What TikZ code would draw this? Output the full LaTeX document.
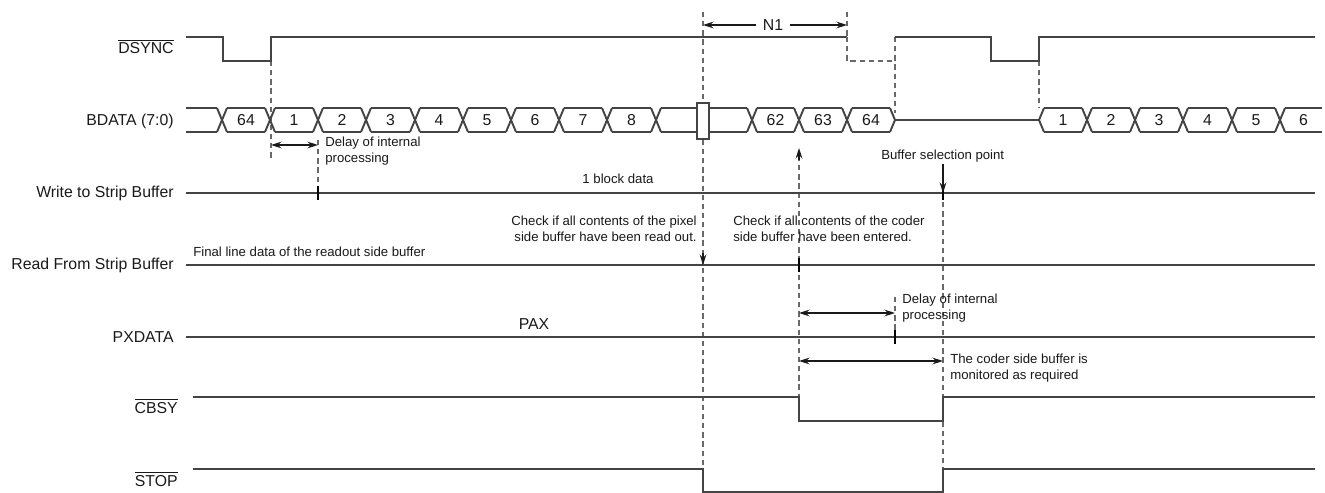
\documentclass[tikz,border=0pt]{standalone}
\usepackage{fontspec}
\setmainfont{Liberation Sans}
\usepackage{xcolor}
\usepackage{tikz}
\usetikzlibrary{arrows.meta}
\definecolor{wavegray}{RGB}{68,68,68}
\definecolor{guidegray}{RGB}{105,105,105}
\definecolor{inkblack}{RGB}{25,25,25}
\newcommand{\sigbar}[1]{$\overline{\hbox{#1}}$}

\begin{document}
\begin{tikzpicture}[x=0.02cm, y=-0.02cm,
  wave/.style={draw=wavegray, line width=1.1pt},
  guide/.style={draw=guidegray, line width=0.8pt, dash pattern=on 3pt off 2.2pt},
  strobe/.style={draw=black, line width=1.5pt},
  onetip/.style={-{Stealth[length=6pt,width=3.8pt]}, draw=inkblack, line width=0.9pt},
  twotip/.style={{Stealth[length=6pt,width=3.8pt]}-{Stealth[length=6pt,width=3.8pt]}, draw=inkblack, line width=0.9pt},
  sig/.style={anchor=base east, font=\fontsize{9}{10}\selectfont, text=inkblack, inner sep=0pt},
  cell/.style={font=\fontsize{9}{10}\selectfont, text=inkblack, inner sep=0pt},
  note/.style={font=\fontsize{7.5}{9}\selectfont, text=inkblack, inner sep=0pt},
]
  \useasboundingbox (0,0) rectangle (1325,493);

  % Signal names
  \node[sig] (lsync)  at (174,54)  {\sigbar{DSYNC}};
  \node[sig] (lbdata) at (174,126) {BDATA (7:0)};
  \node[sig] (lwrite) at (174,198) {Write to Strip Buffer};
  \node[sig] (lread)  at (174,270) {Read From Strip Buffer};
  \node[sig] (lpx)    at (174,342) {PXDATA};
  \node[sig] (lcbsy)  at (178,413) {\sigbar{CBSY}};
  \node[sig] (lstop)  at (178,486) {\sigbar{STOP}};

  % Dashed timing guides
  \draw[guide] (271,61) -- (271,160);
  \draw[guide] (318,140) -- (318,193);
  \draw[guide] (703,12) -- (703,492);
  \draw[guide] (847,12) -- (847,37);
  \draw[guide] (895,37) -- (895,113);
  \draw[guide] (1039,61) -- (1039,108);
  \draw[guide] (799,156) -- (799,397);
  \draw[guide] (943,193) -- (943,492);
  \draw[guide] (895,297) -- (895,337);

  % DSYNC
  \draw[wave] (186,37) -- (223,37) -- (223,61) -- (271,61) -- (271,37) -- (847,37);
  \draw[guide] (847,37) -- (847,61) -- (895,61) -- (895,37);
  \draw[wave] (895,37) -- (991,37) -- (991,61) -- (1039,61) -- (1039,37) -- (1315,37);

  % BDATA bus
  \draw[wave] (186,108) -- (217,108) (186,132) -- (217,132);
  \foreach \c in {222,270,318,366,415,463,511,559,607,656,752,799,847,1087,1135,1183,1232,1280}
    \draw[wave] (\c-5,108) -- (\c+5,132) (\c-5,132) -- (\c+5,108);
  \foreach \a/\b/\t in {222/270/64, 270/318/1, 318/366/2, 366/415/3, 415/463/4,
                        463/511/5, 511/559/6, 559/607/7, 607/656/8, 752/799/62,
                        799/847/63, 847/895/64, 1039/1087/1, 1087/1135/2,
                        1135/1183/3, 1183/1232/4, 1232/1280/5, 1280/1327/6}
  {
    \draw[wave] (\a+5,108) -- (\b-5,108) (\a+5,132) -- (\b-5,132);
    \node[cell] (cell\a) at ({(\a+\b)/2},120) {\t};
  }
  \draw[wave] (661,108) -- (747,108) (661,132) -- (747,132);
  \draw[wave] (890,108) -- (895,120) -- (890,132);
  \draw[wave] (895,120) -- (1039,120);
  \draw[wave] (1044,108) -- (1039,120) -- (1044,132);
  \draw[wave, fill=white] (697,103) rectangle (709,139);

  % Strip buffer, PXDATA, CBSY, STOP
  \draw[wave] (186,193) -- (1315,193);
  \draw[wave] (186,265) -- (1315,265);
  \draw[wave] (186,337) -- (1315,337);
  \draw[wave] (193,397) -- (799,397) -- (799,421) -- (943,421) -- (943,397) -- (1315,397);
  \draw[wave] (193,469) -- (703,469) -- (703,492) -- (943,492) -- (943,469) -- (1315,469);

  % Strobes
  \draw[strobe] (318,186) -- (318,200);
  \draw[strobe] (943,186) -- (943,200);
  \draw[strobe] (799,258) -- (799,272);
  \draw[strobe] (895,330) -- (895,344);

  % N1 span
  \coordinate (n1l) at (703,25);
  \coordinate (n1r) at (847,25);
  \node[cell, inner sep=4pt] (n1) at (773,25) {N1};
  \draw[onetip] (n1) -- (n1l);
  \draw[onetip] (n1) -- (n1r);

  % Delay spans
  \coordinate (dla) at (271,145);
  \coordinate (dlb) at (318,145);
  \draw[twotip] (dla) -- (dlb);
  \node[note, anchor=north west, align=left] (dly1) at (325,137) {Delay of internal\\processing};

  \coordinate (dpa) at (799,313);
  \coordinate (dpb) at (895,313);
  \draw[twotip] (dpa) -- (dpb);
  \node[note, anchor=north west, align=left] (dly2) at (902,294) {Delay of internal\\processing};

  \coordinate (mona) at (799,361);
  \coordinate (monb) at (943,361);
  \draw[twotip] (mona) -- (monb);
  \node[note, anchor=north west, align=left] (mon) at (950,354) {The coder side buffer is\\monitored as required};

  % Check points
  \coordinate (rdt) at (703,253);
  \coordinate (rdh) at (703,265);
  \draw[onetip] (rdt) -- (rdh);
  \node[note, anchor=north east, align=right] (chkpx) at (697,216)
    {Check if all contents of the pixel\\side buffer have been read out.};

  \coordinate (wrt) at (799,160);
  \coordinate (wrh) at (799,148);
  \draw[onetip] (wrt) -- (wrh);
  \node[note, anchor=north west, align=left] (chkcd) at (733,216)
    {Check if all contents of the coder\\side buffer have been entered.};

  \node[note, anchor=base west] (bsel) at (881,160) {Buffer selection point};
  \coordinate (bsh) at (943,193);
  \draw[onetip] (943,164) -- (bsh);

  % Data notes
  \node[note, anchor=base] (blk) at (618,184) {1 block data};
  \node[note, anchor=base west] (fin) at (193,256) {Final line data of the readout side buffer};
  \node[cell, anchor=base] (pax) at (534,329) {PAX};
\end{tikzpicture}
\end{document}
